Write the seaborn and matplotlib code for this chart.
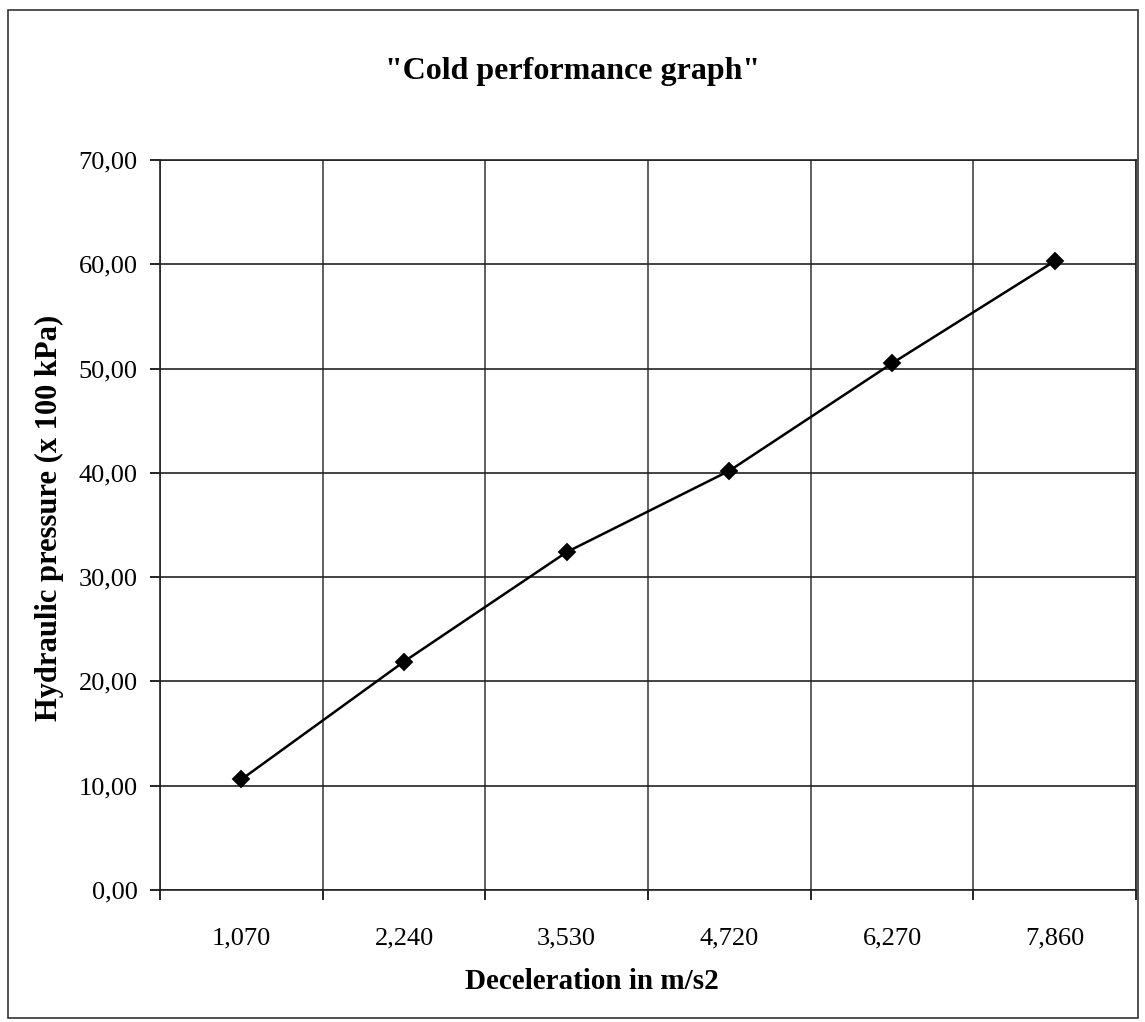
import matplotlib
matplotlib.use("Agg")
import matplotlib.pyplot as plt
import seaborn as sns
import pandas as pd
from matplotlib.patches import Rectangle
from matplotlib.ticker import FixedLocator

categories = ["1,070", "2,240", "3,530", "4,720", "6,270", "7,860"]
pressure = [10.6, 21.9, 32.4, 40.2, 50.5, 60.3]
y_ticks = [0, 10, 20, 30, 40, 50, 60, 70]
y_tick_labels = ["0,00", "10,00", "20,00", "30,00", "40,00", "50,00", "60,00", "70,00"]

sns.set_theme(style="white")
plt.rcParams['font.family'] = ['Liberation Serif', 'DejaVu Serif']
plt.rcParams['text.color'] = 'black'
plt.rcParams['xtick.color'] = 'black'
plt.rcParams['ytick.color'] = 'black'

df = pd.DataFrame({"decel": categories, "pressure": pressure})

W, H = 1145, 1022
fig = plt.figure(figsize=(W / 100, H / 100), dpi=100)
ax = fig.add_axes([160 / W, 1 - 890 / H, (1136 - 160) / W, (890 - 160) / H])

sns.pointplot(data=df, x="decel", y="pressure", color="black", markers="D",
              linestyles="-", ax=ax, markersize=8, linewidth=1.8, errorbar=None)

n = len(categories)
ax.set_xlim(-0.5, n - 0.5)
ax.set_ylim(0, 70)
ax.set_yticks(y_ticks)
ax.set_yticklabels(y_tick_labels, fontsize=19)
ax.set_xticks(range(n))
ax.set_xticklabels(categories, fontsize=19)
ax.xaxis.set_minor_locator(FixedLocator([i - 0.5 for i in range(n + 1)]))

ax.tick_params(axis="x", which="major", length=0, pad=27)
ax.tick_params(axis="x", which="minor", length=7, width=1.2, color="black", direction="out", bottom=True)
ax.tick_params(axis="y", which="major", length=7, width=1.2, color="black", direction="out", left=True, pad=9)

ax.grid(False)
ax.yaxis.grid(True, which="major", color="#222222", linewidth=1.2)
ax.xaxis.grid(True, which="minor", color="#444444", linewidth=1.2)
for s in ax.spines.values():
    s.set_color("#222222")
    s.set_linewidth(1.2)

ax.set_xlabel("")
ax.set_ylabel("")

fig.text(573 / W, 1 - 72 / H, "\"Cold performance graph\"", ha="center", va="center",
         fontsize=23, fontweight="bold")
fig.text(592 / W, 1 - 981 / H, "Deceleration in m/s2", ha="center", va="center",
         fontsize=21, fontweight="bold")
fig.text(49 / W, 1 - 518 / H, "Hydraulic pressure (x 100 kPa)", ha="center", va="center",
         rotation=90, fontsize=22, fontweight="bold")

fig.patches.append(Rectangle((8 / W, 1 - 1018 / H), (1138 - 8) / W, (1018 - 10) / H,
                             transform=fig.transFigure, fill=False,
                             edgecolor="#333333", linewidth=1.2))

fig.savefig("out.png", dpi=100)
